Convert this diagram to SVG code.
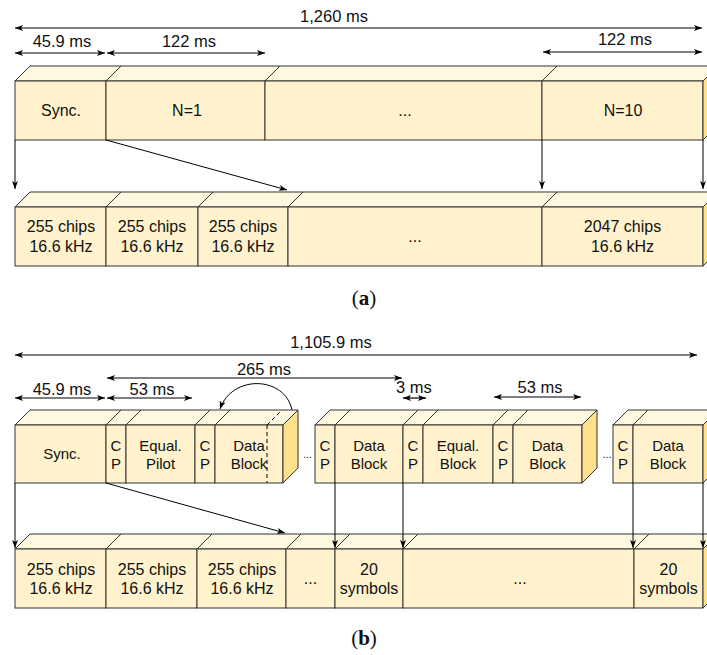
<svg xmlns="http://www.w3.org/2000/svg" width="707" height="655" viewBox="0 0 707 655">
<defs>
<marker id="ah" viewBox="0 0 8 6" refX="8" refY="3" markerWidth="8" markerHeight="6" markerUnits="userSpaceOnUse" orient="auto-start-reverse">
<path d="M0,0 L8,3 L0,6 L2,3 z" fill="#000"/>
</marker>
<style>
text{font-family:"Liberation Sans",Arial,sans-serif;fill:#111;text-anchor:middle}
.lbl{font-size:16.5px}
.b16{font-size:16px}
.b15{font-size:15px}
.dots{font-size:11px}
.cap{font-family:"Liberation Serif","Times New Roman",serif;font-size:21px}
.front{fill:#FFF2CC;stroke:#333;stroke-width:1}
.top{fill:#FFF8E1;stroke:#333;stroke-width:1}
.side{fill:#FFE08F;stroke:#333;stroke-width:1}
.dim{stroke:#000;stroke-width:1.2;fill:none;marker-start:url(#ah);marker-end:url(#ah)}
.con{stroke:#000;stroke-width:1;fill:none;marker-end:url(#ah)}
.dash{stroke:#000;stroke-width:1;stroke-dasharray:4 3;fill:none}
</style>
</defs>
<rect width="707" height="655" fill="#fff"/>

<!-- (a) dimension labels -->
<g id="a-dims">
<path class="dim" d="M15,28 H702"/>
<text class="lbl" x="334" y="22">1,260 ms</text>
<path class="dim" d="M15,53 H105"/>
<text class="lbl" x="62" y="47">45.9 ms</text>
<path class="dim" d="M107,53 H265"/>
<text class="lbl" x="189" y="47">122 ms</text>
<path class="dim" d="M543,52 H702"/>
<text class="lbl" x="625" y="45">122 ms</text>
</g>

<!-- (a) top row -->
<g id="a-sync"><polygon class="top" points="15,81 30,66 121,66 106,81"/><rect class="front" x="15" y="81" width="91" height="59"/><text class="b16" x="61" y="116">Sync.</text></g>
<g id="a-n1"><polygon class="top" points="106,81 121,66 280,66 265,81"/><rect class="front" x="106" y="81" width="159" height="59"/><text class="b16" x="187" y="116">N=1</text></g>
<g id="a-dots"><polygon class="top" points="265,81 280,66 557,66 542,81"/><rect class="front" x="265" y="81" width="277" height="59"/><text class="b16" x="405" y="116">...</text></g>
<g id="a-n10"><polygon class="top" points="542,81 557,66 718,66 703,81"/><rect class="front" x="542" y="81" width="161" height="59"/><polygon class="side" points="703,81 718,66 718,125 703,140"/><text class="b16" x="623" y="116">N=10</text></g>

<!-- (a) bottom row -->
<g id="a-c1"><polygon class="top" points="15,207 30,192 121,192 106,207"/><rect class="front" x="15" y="207" width="91" height="59"/><text class="b16" x="61" y="232">255 chips</text><text class="b16" x="61" y="252">16.6 kHz</text></g>
<g id="a-c2"><polygon class="top" points="106,207 121,192 213,192 198,207"/><rect class="front" x="106" y="207" width="92" height="59"/><text class="b16" x="152" y="232">255 chips</text><text class="b16" x="152" y="252">16.6 kHz</text></g>
<g id="a-c3"><polygon class="top" points="198,207 213,192 303,192 288,207"/><rect class="front" x="198" y="207" width="90" height="59"/><text class="b16" x="243" y="232">255 chips</text><text class="b16" x="243" y="252">16.6 kHz</text></g>
<g id="a-c4"><polygon class="top" points="288,207 303,192 557,192 542,207"/><rect class="front" x="288" y="207" width="254" height="59"/><text class="b16" x="415" y="242">...</text></g>
<g id="a-c5"><polygon class="top" points="542,207 557,192 718,192 703,207"/><rect class="front" x="542" y="207" width="161" height="59"/><polygon class="side" points="703,207 718,192 718,251 703,266"/><text class="b16" x="622.5" y="232">2047 chips</text><text class="b16" x="622.5" y="252">16.6 kHz</text></g>

<text class="cap" x="364" y="304.5">(<tspan font-weight="bold">a</tspan>)</text>

<!-- (b) dimension labels -->
<g id="b-dims">
<path class="dim" d="M15,355 H697"/>
<text class="lbl" x="331" y="348">1,105.9 ms</text>
<path class="dim" d="M107,378 H402"/>
<text class="lbl" x="264" y="375">265 ms</text>
<path class="dim" d="M15,398 H105"/>
<text class="lbl" x="62" y="395">45.9 ms</text>
<path class="dim" d="M107,398 H192"/>
<text class="lbl" x="152" y="395">53 ms</text>
<path class="dim" d="M403,398 H426"/>
<text class="lbl" x="414" y="393">3 ms</text>
<path class="dim" d="M494,397 H581"/>
<text class="lbl" x="540" y="393">53 ms</text>
</g>

<!-- (b) top row group 1 -->
<g id="b-sync"><polygon class="top" points="15,425 30,410 121,410 106,425"/><rect class="front" x="15" y="425" width="91" height="58"/><text class="b15" x="62" y="459">Sync.</text></g>
<g id="b-cp1"><polygon class="top" points="106,425 121,410 141,410 126,425"/><rect class="front" x="106" y="425" width="20" height="58"/><text class="b15" x="116" y="451">C</text><text class="b15" x="116" y="469">P</text></g>
<g id="b-eq1"><polygon class="top" points="126,425 141,410 210,410 195,425"/><rect class="front" x="126" y="425" width="69" height="58"/><text class="b15" x="160.5" y="451">Equal.</text><text class="b15" x="160.5" y="469">Pilot</text></g>
<g id="b-cp2"><polygon class="top" points="195,425 210,410 230,410 215,425"/><rect class="front" x="195" y="425" width="20" height="58"/><text class="b15" x="205" y="451">C</text><text class="b15" x="205" y="469">P</text></g>
<g id="b-data1"><polygon class="top" points="215,425 230,410 298,410 283,425"/><rect class="front" x="215" y="425" width="68" height="58"/><polygon class="side" points="283,425 298,410 298,468 283,483"/><path class="dash" d="M267,425 V483 M267,425 L282,410"/><text class="b15" x="249" y="451">Data</text><text class="b15" x="249" y="469">Block</text></g>
<text class="dots" x="307.5" y="458">...</text>

<!-- (b) top row group 2 -->
<g id="b-cp3"><polygon class="top" points="315,425 330,410 350,410 335,425"/><rect class="front" x="315" y="425" width="20" height="58"/><text class="b15" x="325" y="451">C</text><text class="b15" x="325" y="469">P</text></g>
<g id="b-data2"><polygon class="top" points="335,425 350,410 418,410 403,425"/><rect class="front" x="335" y="425" width="68" height="58"/><text class="b15" x="369" y="451">Data</text><text class="b15" x="369" y="469">Block</text></g>
<g id="b-cp4"><polygon class="top" points="403,425 418,410 438,410 423,425"/><rect class="front" x="403" y="425" width="20" height="58"/><text class="b15" x="413" y="451">C</text><text class="b15" x="413" y="469">P</text></g>
<g id="b-eq2"><polygon class="top" points="423,425 438,410 508,410 493,425"/><rect class="front" x="423" y="425" width="70" height="58"/><text class="b15" x="458" y="451">Equal.</text><text class="b15" x="458" y="469">Block</text></g>
<g id="b-cp5"><polygon class="top" points="493,425 508,410 528,410 513,425"/><rect class="front" x="493" y="425" width="20" height="58"/><text class="b15" x="503" y="451">C</text><text class="b15" x="503" y="469">P</text></g>
<g id="b-data3"><polygon class="top" points="513,425 528,410 597,410 582,425"/><rect class="front" x="513" y="425" width="69" height="58"/><polygon class="side" points="582,425 597,410 597,468 582,483"/><text class="b15" x="547.5" y="451">Data</text><text class="b15" x="547.5" y="469">Block</text></g>
<text class="dots" x="607" y="458">...</text>

<!-- (b) top row group 3 -->
<g id="b-cp6"><polygon class="top" points="613,425 628,410 648,410 633,425"/><rect class="front" x="613" y="425" width="20" height="58"/><text class="b15" x="623" y="451">C</text><text class="b15" x="623" y="469">P</text></g>
<g id="b-data4"><polygon class="top" points="633,425 648,410 718,410 703,425"/><rect class="front" x="633" y="425" width="70" height="58"/><polygon class="side" points="703,425 718,410 718,468 703,483"/><text class="b15" x="668" y="451">Data</text><text class="b15" x="668" y="469">Block</text></g>

<!-- (b) bottom row -->
<g id="b-c1"><polygon class="top" points="15,549 30,534 121,534 106,549"/><rect class="front" x="15" y="549" width="91" height="59"/><text class="b16" x="61" y="575">255 chips</text><text class="b16" x="61" y="594">16.6 kHz</text></g>
<g id="b-c2"><polygon class="top" points="106,549 121,534 212,534 197,549"/><rect class="front" x="106" y="549" width="91" height="59"/><text class="b16" x="152" y="575">255 chips</text><text class="b16" x="152" y="594">16.6 kHz</text></g>
<g id="b-c3"><polygon class="top" points="197,549 212,534 301,534 286,549"/><rect class="front" x="197" y="549" width="89" height="59"/><text class="b16" x="242" y="575">255 chips</text><text class="b16" x="242" y="594">16.6 kHz</text></g>
<g id="b-c4"><polygon class="top" points="286,549 301,534 350,534 335,549"/><rect class="front" x="286" y="549" width="49" height="59"/><text class="b16" x="310.5" y="584">...</text></g>
<g id="b-c5"><polygon class="top" points="335,549 350,534 418,534 403,549"/><rect class="front" x="335" y="549" width="68" height="59"/><text class="b16" x="369" y="575">20</text><text class="b16" x="369" y="594">symbols</text></g>
<g id="b-c6"><polygon class="top" points="403,549 418,534 649,534 634,549"/><rect class="front" x="403" y="549" width="231" height="59"/><text class="b16" x="520" y="584">...</text></g>
<g id="b-c7"><polygon class="top" points="634,549 649,534 718,534 703,549"/><rect class="front" x="634" y="549" width="69" height="59"/><polygon class="side" points="703,549 718,534 718,593 703,608"/><text class="b16" x="668.5" y="575">20</text><text class="b16" x="668.5" y="594">symbols</text></g>

<text class="cap" x="364" y="645">(<tspan font-weight="bold">b</tspan>)</text>

<!-- connectors -->
<g id="connectors">
<path class="con" d="M15,140 V189"/>
<path class="con" d="M106,140 L287,190"/>
<path class="con" d="M542,140 V189"/>
<path class="con" d="M703,140 V189"/>
<path class="con" d="M15,483 V548"/>
<path class="con" d="M106,483 L285,533"/>
<path class="con" d="M335,483 V548"/>
<path class="con" d="M403,483 V548"/>
<path class="con" d="M633,483 V548"/>
<path class="con" d="M703,483 V548"/>
<path class="con" d="M292,410 C285,376 232,374 220,409"/>
</g>
</svg>
